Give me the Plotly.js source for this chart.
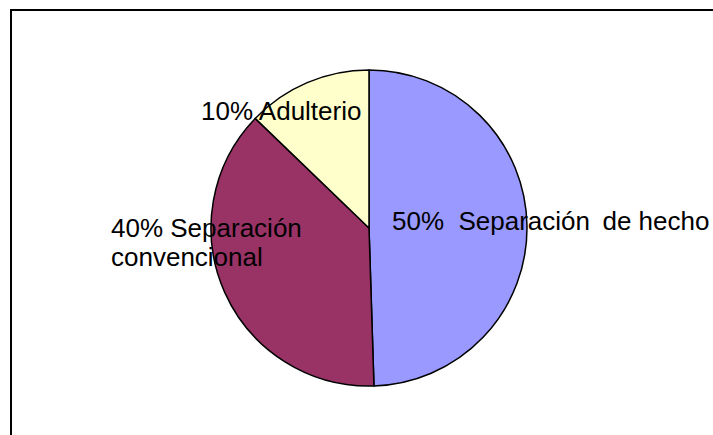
<!DOCTYPE html>
<html>
<head>
<meta charset="utf-8">
<script src="https://cdn.plot.ly/plotly-3.0.1.min.js"></script>
<style>
  html, body { margin: 0; padding: 0; background: #ffffff; }
  #chart { width: 713px; height: 435px; }
</style>
</head>
<body>
<div id="chart"></div>
<script>
// Data
const categories = ['Separación de hecho', 'Separación convencional', 'Adulterio'];
const values = [49.5, 37.7, 12.8];
const labelTexts = ['50%  Separación\u2009 de hecho', '40% Separación', 'convencional', '10% Adulterio'];
const colors = ['#9999FF', '#993366', '#FFFFCC'];

const W = 713, H = 435;
const px = (x) => x / W;
const py = (y) => 1 - y / H;

const trace = {
  type: 'pie',
  labels: categories,
  values: values,
  sort: false,
  direction: 'clockwise',
  rotation: 0,
  textinfo: 'none',
  hoverinfo: 'none',
  marker: { colors: colors, line: { color: '#000000', width: 1.5 } },
  domain: { x: [px(211), px(527)], y: [py(386), py(70)] },
  showlegend: false
};

const font = { family: 'Liberation Sans, Arial, sans-serif', size: 26, color: '#000000' };
const ann = (text, x, yMid) => ({
  text: text, x: px(x), y: py(yMid), xref: 'paper', yref: 'paper',
  xanchor: 'left', yanchor: 'middle', showarrow: false, align: 'left',
  font: font, borderpad: 0
});

const layout = {
  width: W, height: H,
  margin: { l: 0, r: 0, t: 0, b: 0 },
  paper_bgcolor: '#ffffff',
  plot_bgcolor: '#ffffff',
  showlegend: false,
  shapes: [{
    type: 'rect', xref: 'paper', yref: 'paper',
    x0: px(11), x1: 1.05, y0: -0.05, y1: py(10),
    line: { color: '#000000', width: 2 }, fillcolor: 'rgba(0,0,0,0)', layer: 'above'
  }],
  annotations: [
    ann(labelTexts[0], 391, 221),
    ann(labelTexts[1], 110, 228),
    ann(labelTexts[2], 110, 257),
    ann(labelTexts[3], 199.5, 111)
  ]
};

Plotly.newPlot('chart', [trace], layout, { displayModeBar: false, staticPlot: true });
</script>
</body>
</html>
